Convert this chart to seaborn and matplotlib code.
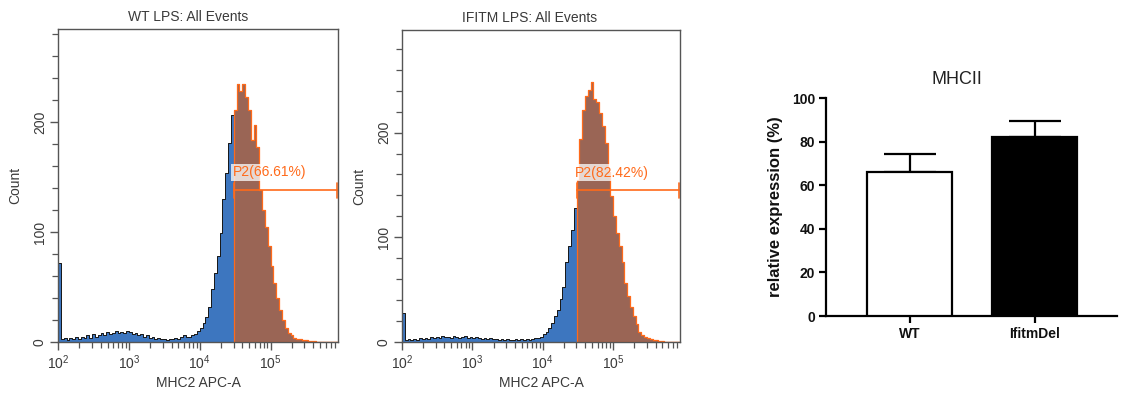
import numpy as np
import pandas as pd
import matplotlib
matplotlib.use("Agg")
import matplotlib.pyplot as plt
import seaborn as sns
from matplotlib.ticker import FixedLocator, FuncFormatter, MultipleLocator

sns.set_theme(style="white")
plt.rcParams["font.family"] = ["Liberation Sans", "DejaVu Sans"]
plt.rcParams["mathtext.default"] = "regular"

# ---------------- data ----------------
bin_start_log = 2.0      # log10 of first bin edge
bin_width_log = 0.04     # bin width in decades
gate_log = 4.48          # P2 gate start (log10)

wt_counts = [
    72, 3, 4, 2, 4, 3, 5, 3, 5, 4,
    6, 4, 7, 5, 6, 8, 6, 9, 7, 8,
    10, 8, 9, 8, 10, 9, 7, 8, 6, 7,
    5, 6, 4, 5, 3, 4, 3, 3, 2, 3,
    3, 4, 3, 5, 6,
    5, 5, 6, 7, 10, 13, 17, 23, 32, 48,
    63, 78, 99, 130, 154, 181, 207,
    211, 235, 229, 235, 223, 211, 184, 198, 178, 138,
    120, 105, 87, 69, 54, 40, 29, 20, 13, 8,
    6, 4, 3, 3, 2, 2, 1, 1, 1, 0,
    0, 0, 0, 0, 0, 0, 0,
]
ifitm_counts = [
    28, 2, 3, 2, 3, 2, 4, 3, 4, 3,
    5, 4, 5, 4, 6, 5, 5, 4, 6, 5,
    4, 5, 6, 4, 5, 4, 5, 4, 3, 4,
    3, 4, 3, 3, 2, 3, 2, 3, 2, 2,
    3, 2, 3, 2, 3,
    2, 3, 4, 4, 5, 8, 10, 13, 18, 25,
    31, 41, 53, 76, 92, 107, 128,
    155, 194, 222, 235, 241, 248, 232, 229, 219, 206,
    190, 162, 139, 120, 104, 92, 76, 56, 44, 33,
    25, 17, 10, 7, 5, 4, 3, 2, 2, 1,
    1, 0, 0, 0, 0, 0, 0,
]
hist_titles = ["WT LPS: All Events", "IFITM LPS: All Events"]
gate_counts = [138, 145]
gate_labels = ["P2(66.61%)", "P2(82.42%)"]
hist_ylims = [285, 298]

groups = ["WT", "IfitmDel"]
means = [66.0, 82.2]
sems = [8.4, 7.3]

# ---------------- figure ----------------
W, H = 1143, 401
fig = plt.figure(figsize=(W / 100, H / 100), dpi=100)

def frac(l, t, r, b):
    return [l / W, (H - b) / H, (r - l) / W, (b - t) / H]

blue = "#3D76BF"
brown = "#9A6555"
orange = "#FF6A1A"
txt = "#3a3a3a"
spine_c = "#555555"

hist_axes = [fig.add_axes(frac(58, 29, 338, 342)),
             fig.add_axes(frac(402, 30, 680, 342))]
title_x = [0.465, 0.46]

for ax, counts, title, gcount, glabel, ylim, tx in zip(
        hist_axes, [wt_counts, ifitm_counts], hist_titles, gate_counts,
        gate_labels, hist_ylims, title_x):
    n = len(counts)
    edges = [bin_start_log + bin_width_log * i for i in range(n + 1)]
    centers = [e + bin_width_log / 2 for e in edges[:-1]]
    df = pd.DataFrame({"logx": centers, "count": counts})
    g = int(round((gate_log - bin_start_log) / bin_width_log))
    sns.histplot(data=df.iloc[:g], x="logx", weights="count", bins=edges[:g + 1],
                 element="step", fill=True, color=blue, alpha=1,
                 edgecolor="#151515", linewidth=0.7, ax=ax)
    sns.histplot(data=df.iloc[g:], x="logx", weights="count", bins=edges[g:],
                 element="step", fill=True, color=brown, alpha=1,
                 edgecolor=orange, linewidth=0.9, ax=ax)
    xmax = 5.95
    ax.set_xlim(2.0, xmax)
    ax.set_ylim(0, ylim)
    # gate marker
    ax.plot([gate_log, xmax - 0.02], [gcount, gcount], color=orange, lw=1.2)
    for xx in (gate_log, xmax - 0.02):
        ax.plot([xx, xx], [gcount - 7, gcount + 7], color=orange, lw=1.2)
    ax.text(gate_log - 0.02, gcount + 10, glabel, color=orange, fontsize=10,
            ha="left", va="bottom",
            bbox=dict(boxstyle="square,pad=0.1", fc="white", ec="none", alpha=0.75))
    # ticks
    ax.xaxis.set_major_locator(FixedLocator([2, 3, 4, 5]))
    ax.xaxis.set_major_formatter(FuncFormatter(lambda v, p: "$10^{%d}$" % int(round(v))))
    minors = [np.log10(k) + d for d in range(2, 6) for k in range(2, 10)
              if np.log10(k) + d < xmax]
    ax.xaxis.set_minor_locator(FixedLocator(minors))
    ax.yaxis.set_major_locator(MultipleLocator(100))
    ax.yaxis.set_minor_locator(MultipleLocator(20))
    ax.tick_params(axis="both", which="major", direction="out", length=6, width=1,
                   color=spine_c, labelsize=10, labelcolor=txt, pad=2,
                   bottom=True, left=True)
    ax.tick_params(axis="both", which="minor", direction="out", length=4, width=0.9,
                   color=spine_c, bottom=True, left=True)
    for lab in ax.get_yticklabels():
        lab.set_rotation(90)
        lab.set_va("center")
    for s in ax.spines.values():
        s.set_color(spine_c)
        s.set_linewidth(1.0)
    ax.set_title(title, fontsize=10, color=txt, x=tx, pad=6)
    ax.set_xlabel("MHC2 APC-A", fontsize=10, color=txt, labelpad=3)
    ax.set_ylabel("Count", fontsize=10, color=txt, labelpad=8)
    ax.grid(False)

# ---------------- bar chart ----------------
ax3 = fig.add_axes(frac(826, 98, 1117, 316))
bar_df = pd.DataFrame({"group": groups, "value": means})
sns.barplot(data=bar_df, x="group", y="value", hue="group",
            palette=["white", "black"], edgecolor="black", linewidth=1.6,
            width=0.68, errorbar=None, legend=False, ax=ax3, zorder=3)
ax3.errorbar(x=np.arange(len(groups)), y=means,
             yerr=[np.zeros(len(sems)), sems], fmt="none", ecolor="black",
             elinewidth=1.6, capsize=19, capthick=1.6, zorder=2)
ax3.set_xlim(-0.668, 1.66)
ax3.set_ylim(0, 100)
ax3.yaxis.set_major_locator(MultipleLocator(20))
ax3.spines["top"].set_visible(False)
ax3.spines["right"].set_visible(False)
for s in ("left", "bottom"):
    ax3.spines[s].set_color("black")
    ax3.spines[s].set_linewidth(1.6)
ax3.tick_params(axis="both", direction="out", length=5, width=1.6, color="black",
                labelsize=10, labelcolor="#111111", bottom=True, left=True, pad=3)
for lab in ax3.get_xticklabels() + ax3.get_yticklabels():
    lab.set_fontweight("bold")
ax3.set_xlabel("")
ax3.set_ylabel("relative expression (%)", fontsize=12, fontweight="bold",
               color="#111111", labelpad=6)
ax3.set_title("MHCII", fontsize=13, color="#222222", x=0.45, pad=10)
ax3.grid(False)

fig.savefig("out.png", dpi=100, facecolor="white")
